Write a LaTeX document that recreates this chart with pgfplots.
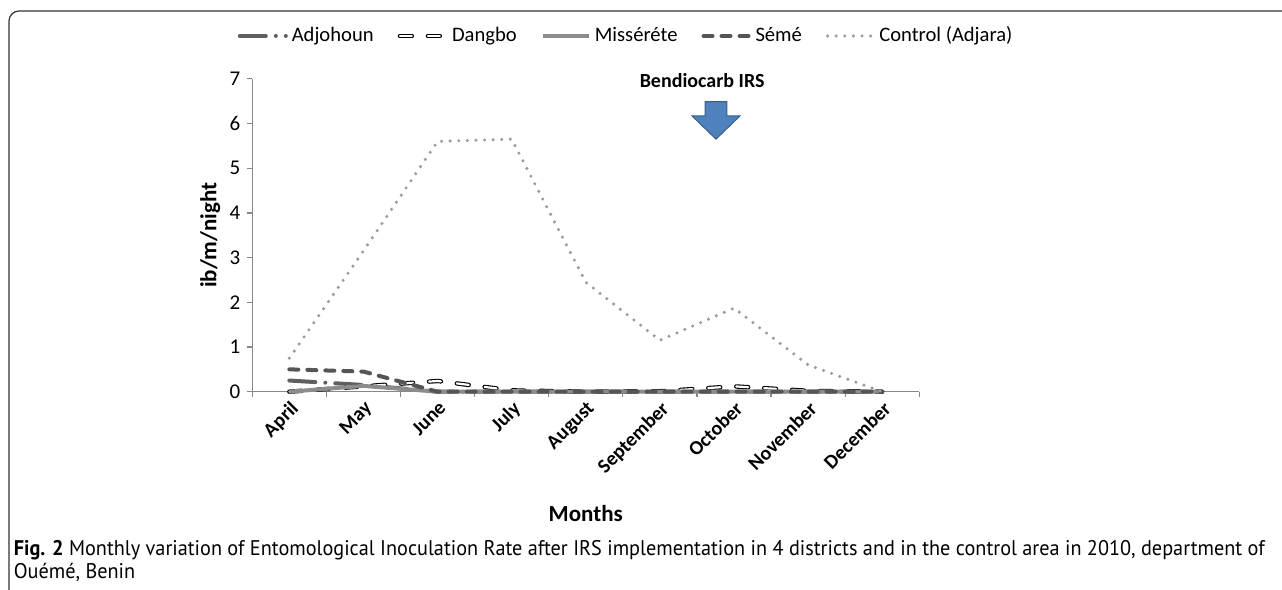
\documentclass[border=0pt]{standalone}
\usepackage{fontspec}
\setmainfont{Carlito}
\newfontfamily\capfont[FakeStretch=0.955]{PT Sans}
\usepackage{pgfplots}
\pgfplotsset{compat=1.18}

\definecolor{adj}{HTML}{5F5F5F}
\definecolor{sem}{HTML}{555555}
\definecolor{mis}{HTML}{8C8C8C}
\definecolor{ctl}{HTML}{9A9A9A}
\definecolor{axgray}{HTML}{878787}
\definecolor{arrowblue}{HTML}{4F81BD}
\definecolor{arrowedge}{HTML}{385D8A}

\begin{document}
\begin{tikzpicture}
\draw[line width=0.6pt, draw=black!80, rounded corners=5pt] (4.5pt,-2pt) -- (4.5pt,289.5pt) -- (645pt,289.5pt);
\begin{axis}[
  at={(126.15pt,99.15pt)}, anchor=south west,
  scale only axis, width=333.5pt, height=156.45pt,
  xmin=-0.5, xmax=8.5, ymin=0, ymax=7,
  axis x line*=bottom, axis y line*=left,
  axis line style={draw=axgray, line width=0.6pt},
  xtick={0,...,8},
  xticklabels={April,May,June,July,August,September,October,November,December},
  major x tick style={draw=none},
  minor xtick={-0.5,0.5,...,8.5},
  ytick={0,...,7},
  tick align=outside,
  major tick length=2.5pt, minor tick length=2.5pt,
  tick style={draw=axgray, line width=0.6pt},
  xticklabel style={rotate=45, anchor=north east, font=\bfseries\fontsize{10}{12}\selectfont, inner sep=1pt},
  yticklabel style={font=\fontsize{10.5}{12}\selectfont},
  /pgf/number format/assume math mode=true,
  xlabel={Months}, ylabel={ib/m/night},
  xlabel style={at={(axis description cs:0.5,-0.388)}, anchor=center, font=\bfseries\fontsize{11.5}{13}\selectfont},
  ylabel style={at={(axis description cs:-0.063,0.5)}, anchor=center, font=\bfseries\fontsize{11.5}{13}\selectfont},
  clip=false,
  legend image code/.code={\draw[#1] (0pt,0pt) -- (23pt,0pt);},
  legend style={at={(axis description cs:0.562,1.137)}, anchor=center, legend columns=5, draw=none, fill=none,
    font=\fontsize{10.3}{12}\selectfont, inner sep=1pt,
    /tikz/every even column/.append style={column sep=10pt}},
]
\addplot[adj, line width=2pt, line cap=round, line join=round, dash pattern=on 13pt off 5pt on 0pt off 5pt]
  coordinates {(0,0.25)(1,0.15)(2,0)(3,0)(4,0)(5,0)(6,0)(7,0)(8,0)};
\addlegendentry{Adjohoun}
\addplot[draw=black, line width=0.55pt, double=white, double distance=1.1pt, line cap=round, line join=round, dash pattern=on 6pt off 8pt]
  coordinates {(0,0)(1,0.12)(2,0.24)(3,0.03)(4,0)(5,0.01)(6,0.12)(7,0.02)(8,0)};
\addlegendentry{Dangbo}
\addplot[mis, line width=2pt, line join=round]
  coordinates {(0,0)(1,0.13)(2,0)(3,0)(4,0)(5,0)(6,0)(7,0)(8,0)};
\addlegendentry{Misséréte}
\addplot[sem, line width=2pt, line cap=round, line join=round, dash pattern=on 4.5pt off 4.5pt]
  coordinates {(0,0.5)(1,0.45)(2,0)(3,0)(4,0)(5,0)(6,0)(7,0)(8,0)};
\addlegendentry{Sémé}
\addplot[ctl, line width=1.7pt, line cap=round, line join=round, dash pattern=on 0pt off 4.3pt]
  coordinates {(0,0.75)(1,3.15)(2,5.6)(3,5.65)(4,2.45)(5,1.15)(6,1.87)(7,0.6)(8,0)};
\addlegendentry{Control (Adjara)}

\draw[arrowedge, fill=arrowblue, line width=0.5pt, line join=miter]
  (axis cs:5.609,6.49) -- (axis cs:5.905,6.49) -- (axis cs:5.905,6.17) -- (axis cs:6.081,6.17)
  -- (axis cs:5.757,5.65) -- (axis cs:5.433,6.17) -- (axis cs:5.609,6.17) -- cycle;
\node[font=\bfseries\fontsize{10}{12}\selectfont] at (axis cs:5.57,6.95) {Bendiocarb IRS};
\end{axis}
\node[anchor=base west, inner sep=0pt, font=\capfont\fontsize{10.6}{12}\selectfont] at (6.7pt,17pt) {\textbf{Fig. 2} Monthly variation of Entomological Inoculation Rate after IRS implementation in 4 districts and in the control area in 2010, department of};
\node[anchor=base west, inner sep=0pt, font=\capfont\fontsize{10.6}{12}\selectfont] at (6.7pt,5.5pt) {Ouémé, Benin};
\pgfresetboundingbox
\path[use as bounding box] (0pt,0pt) rectangle (641pt,295pt);
\end{tikzpicture}
\end{document}
